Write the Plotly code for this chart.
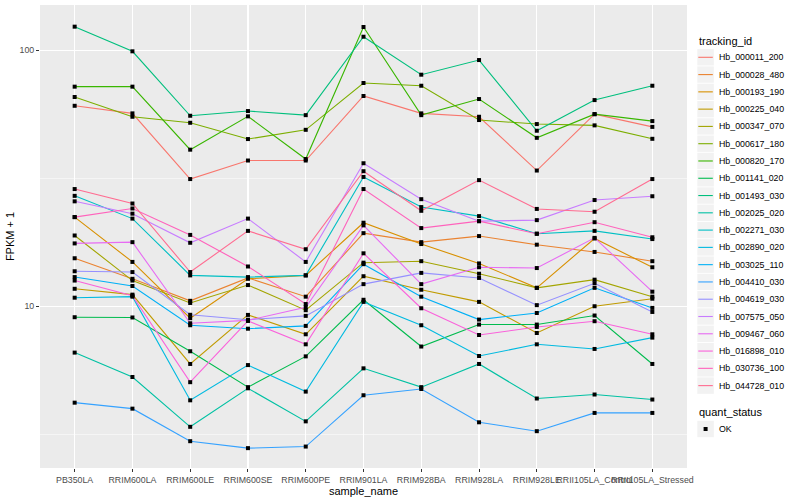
import plotly.graph_objects as go

samples = ["PB350LA", "RRIM600LA", "RRIM600LE", "RRIM600SE", "RRIM600PE", "RRIM901LA",
           "RRIM928BA", "RRIM928LA", "RRIM928LE", "RRII105LA_Control", "RRII105LA_Stressed"]

tracking_ids = ["Hb_000011_200", "Hb_000028_480", "Hb_000193_190", "Hb_000225_040",
                "Hb_000347_070", "Hb_000617_180", "Hb_000820_170", "Hb_001141_020",
                "Hb_001493_030", "Hb_002025_020", "Hb_002271_030", "Hb_002890_020",
                "Hb_003025_110", "Hb_004410_030", "Hb_004619_030", "Hb_007575_050",
                "Hb_009467_060", "Hb_016898_010", "Hb_030736_100", "Hb_044728_010"]

colors = ["#F8766D", "#EA8331", "#D89000", "#C09B00", "#A3A500", "#7CAE00", "#39B600",
          "#00BB4E", "#00BF7D", "#00C1A3", "#00BFC4", "#00BAE0", "#00B0F6", "#35A2FF",
          "#9590FF", "#C77CFF", "#E76BF3", "#FA62DB", "#FF62BC", "#FF6C91"]

quant_status = ["OK"]

# FPKM + 1 per sample
Hb_000011_200 = [60.7, 56.7, 31.4, 37.1, 37.1, 66.3, 56.7, 55.0, 33.9, 56.3, 50.2]
Hb_000028_480 = [15.4, 12.8, 10.5, 12.9, 10.9, 19.3, 17.8, 18.8, 17.4, 16.3, 15.0]
Hb_000193_190 = [22.3, 14.9, 8.98, 12.8, 13.2, 21.2, 17.5, 14.7, 11.8, 18.4, 14.2]
Hb_000225_040 = [11.7, 11.1, 5.95, 9.25, 7.77, 13.1, 11.6, 10.4, 7.86, 10.0, 10.7]
Hb_000347_070 = [18.9, 12.6, 10.3, 12.1, 9.65, 14.8, 15.0, 13.4, 11.8, 12.7, 10.9]
Hb_000617_180 = [65.7, 55.0, 52.1, 45.0, 48.9, 74.5, 72.7, 53.4, 51.5, 50.9, 45.1]
Hb_000820_170 = [72.1, 72.1, 40.9, 55.2, 37.6, 123.3, 55.8, 64.5, 45.5, 56.3, 52.9]
Hb_001141_020 = [9.06, 9.04, 6.67, 4.83, 6.37, 10.6, 6.96, 8.48, 8.48, 9.20, 5.95]
Hb_001493_030 = [123.7, 99.1, 55.5, 57.9, 55.8, 113.0, 80.3, 91.6, 48.5, 63.9, 72.7]
Hb_002025_020 = [6.59, 5.29, 3.38, 4.78, 3.55, 5.72, 4.83, 5.95, 4.36, 4.52, 4.32]
Hb_002271_030 = [27.0, 22.0, 13.2, 13.0, 13.2, 32.0, 24.4, 22.5, 19.2, 19.7, 18.3]
Hb_002890_020 = [10.8, 10.9, 4.29, 5.89, 4.64, 10.4, 8.43, 6.39, 7.10, 6.81, 7.54]
Hb_003025_110 = [13.0, 12.0, 8.43, 8.17, 8.38, 14.6, 10.9, 8.87, 9.41, 11.8, 9.85]
Hb_004410_030 = [4.20, 3.98, 2.97, 2.79, 2.83, 4.49, 4.75, 3.52, 3.25, 3.83, 3.83]
Hb_004619_030 = [13.7, 13.6, 9.26, 8.86, 9.17, 12.2, 13.5, 12.9, 10.1, 12.3, 9.50]
Hb_007575_050 = [25.7, 23.0, 17.7, 22.0, 14.9, 36.2, 26.2, 21.5, 21.7, 26.0, 26.9]
Hb_009467_060 = [17.6, 17.8, 8.58, 8.81, 9.91, 20.7, 12.2, 14.2, 14.1, 18.5, 11.4]
Hb_016898_010 = [12.6, 11.0, 5.05, 8.76, 7.10, 16.1, 9.82, 7.72, 8.30, 8.74, 7.77]
Hb_030736_100 = [22.3, 24.1, 19.0, 14.3, 10.2, 28.7, 20.2, 21.5, 19.2, 21.3, 18.6]
Hb_044728_010 = [28.7, 25.2, 13.6, 19.7, 16.7, 33.7, 23.6, 31.1, 24.0, 23.4, 31.4]

series = [Hb_000011_200, Hb_000028_480, Hb_000193_190, Hb_000225_040, Hb_000347_070,
          Hb_000617_180, Hb_000820_170, Hb_001141_020, Hb_001493_030, Hb_002025_020,
          Hb_002271_030, Hb_002890_020, Hb_003025_110, Hb_004410_030, Hb_004619_030,
          Hb_007575_050, Hb_009467_060, Hb_016898_010, Hb_030736_100, Hb_044728_010]

FONT = "Liberation Sans"
W, H = 800, 500
ML, MR, MT, MB = 40, 113, 5, 32
PW, PH = W - ML - MR, H - MT - MB


def px(x):
    return (x - ML) / PW


def py(y):
    return (H - MB - y) / PH


fig = go.Figure()

for name, col, vals in zip(tracking_ids, colors, series):
    fig.add_trace(go.Scatter(x=samples, y=vals, mode="lines", name=name,
                             line=dict(color=col, width=1.1), showlegend=False))

all_x, all_y = [], []
for vals in series:
    all_x += samples
    all_y += vals
fig.add_trace(go.Scatter(x=all_x, y=all_y, mode="markers", name=quant_status[0],
                         marker=dict(symbol="square", size=4, color="black"),
                         showlegend=False))

# ggplot-style legend drawn in paper space
shapes, annots = [], []
LEG_X0 = 697.3
KEY = 17.28
annots.append(dict(x=px(696.5), y=py(40.7), xref="paper", yref="paper", text="tracking_id",
                   showarrow=False, xanchor="left", yanchor="middle",
                   font=dict(family=FONT, size=11, color="black")))
y0 = 57.3
for i, (name, col) in enumerate(zip(tracking_ids, colors)):
    cy = y0 + i * KEY
    shapes.append(dict(type="rect", xref="paper", yref="paper", x0=px(LEG_X0), x1=px(LEG_X0 + 16.5),
                       y0=py(cy - 8.2), y1=py(cy + 8.2), fillcolor="#F2F2F2", line=dict(width=0),
                       layer="below"))
    shapes.append(dict(type="line", xref="paper", yref="paper", x0=px(LEG_X0 + 1), x1=px(LEG_X0 + 15.5),
                       y0=py(cy), y1=py(cy), line=dict(color=col, width=1.1)))
    annots.append(dict(x=px(716.7), y=py(cy), xref="paper", yref="paper", text=name,
                       showarrow=False, xanchor="left", yanchor="middle",
                       font=dict(family=FONT, size=8.8, color="black")))

annots.append(dict(x=px(696.5), y=py(412.3), xref="paper", yref="paper", text="quant_status",
                   showarrow=False, xanchor="left", yanchor="middle",
                   font=dict(family=FONT, size=11, color="black")))
cy = 429.0
shapes.append(dict(type="rect", xref="paper", yref="paper", x0=px(LEG_X0), x1=px(LEG_X0 + 16.5),
                   y0=py(cy - 8.2), y1=py(cy + 8.2), fillcolor="#F2F2F2", line=dict(width=0),
                   layer="below"))
shapes.append(dict(type="rect", xref="paper", yref="paper", x0=px(LEG_X0 + 6.3), x1=px(LEG_X0 + 10.3),
                   y0=py(cy - 2), y1=py(cy + 2), fillcolor="black", line=dict(width=0)))
annots.append(dict(x=px(716.7), y=py(cy), xref="paper", yref="paper", text=quant_status[0],
                   showarrow=False, xanchor="left", yanchor="middle",
                   font=dict(family=FONT, size=8.8, color="black")))

fig.update_layout(
    width=W, height=H,
    margin=dict(l=ML, r=MR, t=MT, b=MB, autoexpand=False),
    paper_bgcolor="white", plot_bgcolor="#EBEBEB",
    font=dict(family=FONT, size=9, color="black"),
    showlegend=False,
    shapes=shapes, annotations=annots,
    xaxis=dict(type="category", categoryorder="array", categoryarray=samples,
               range=[-0.6, 10.6], showgrid=True, gridcolor="white", gridwidth=1.1,
               zeroline=False, showline=False, ticks="outside", ticklen=3,
               tickcolor="#333333", tickangle=0, automargin=False,
               tickfont=dict(family=FONT, size=8.8, color="#4D4D4D"),
               title=dict(text="sample_name", font=dict(family=FONT, size=11), standoff=2)),
    yaxis=dict(type="log", range=[0.368, 2.177], tickvals=[10, 100], ticktext=["10", "100"],
               showgrid=True, gridcolor="white", gridwidth=1.1, zeroline=False, showline=False,
               ticks="outside", ticklen=3, tickcolor="#333333", automargin=False,
               tickfont=dict(family=FONT, size=8.8, color="#4D4D4D"),
               minor=dict(tickvals=[10 ** 0.5, 10 ** 1.5], showgrid=True,
                          gridcolor="white", gridwidth=0.5, ticks=""),
               title=dict(text="FPKM + 1", font=dict(family=FONT, size=11), standoff=2)),
)

fig.write_html("out.html", config={"displayModeBar": False, "staticPlot": True},
               post_script="document.body.style.margin='0';document.body.style.overflow='hidden';")
